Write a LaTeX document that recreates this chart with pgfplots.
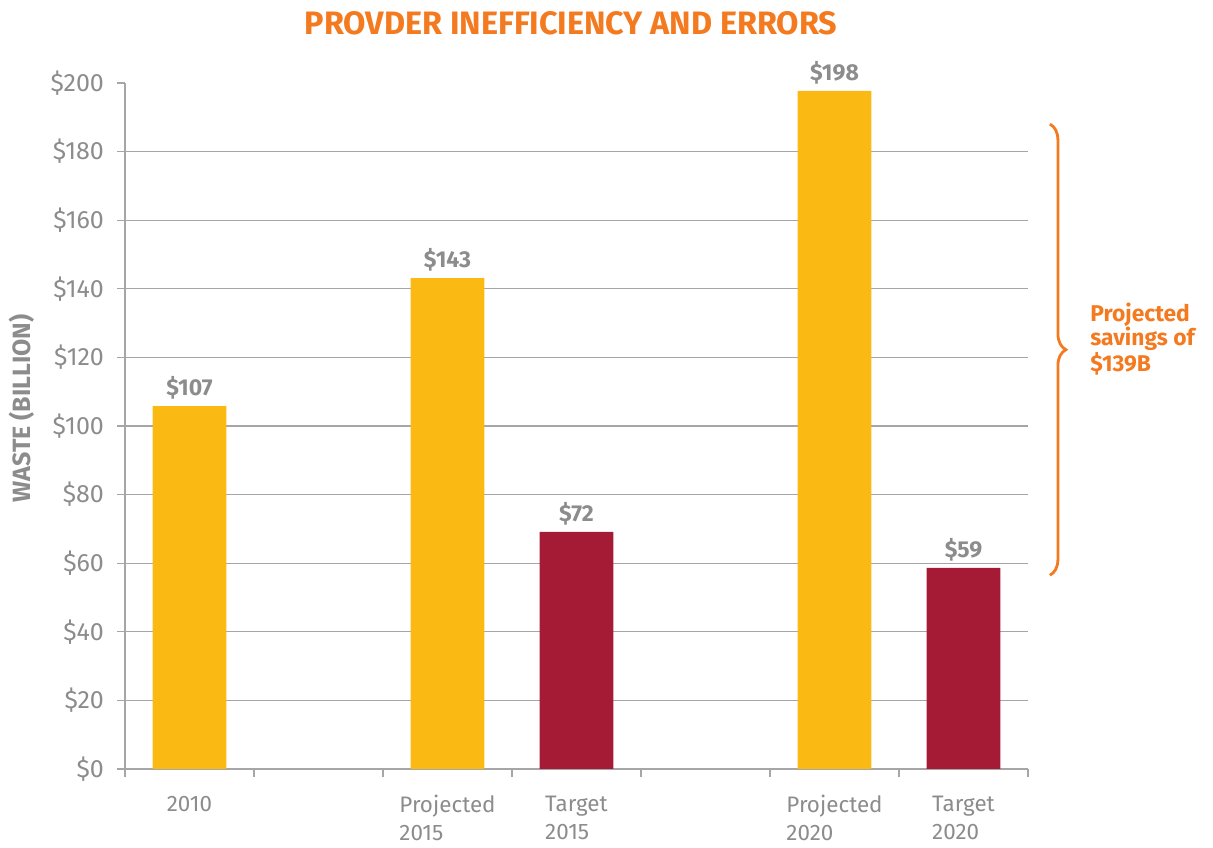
\documentclass[border=0pt]{standalone}
\usepackage{pgfplots}
\pgfplotsset{compat=1.18}
\usepackage{fontspec}
\setmainfont{Fira Sans}
\usetikzlibrary{decorations.pathreplacing}
\definecolor{barY}{HTML}{FBB914}
\definecolor{barR}{HTML}{A51A34}
\definecolor{orng}{HTML}{F47A20}
\definecolor{txtg}{HTML}{8C8C8C}
\definecolor{gridg}{HTML}{A6A6A6}
\begin{document}
\begin{tikzpicture}
\begin{axis}[
  scale only axis, width=451.5pt, height=343pt,
  xmin=-0.5, xmax=6.5, ymin=0, ymax=200,
  axis x line*=bottom, axis y line*=left,
  axis line style={gridg, line width=0.6pt},
  ytick={0,20,...,200},
  yticklabel={\$\pgfmathprintnumber{\tick}},
  tick align=outside, major tick length=4pt,
  tick style={gridg, line width=0.6pt},
  xtick={-0.5,0.5,...,6.5}, xticklabels={},
  extra x ticks={0,2,3,5,6},
  extra x tick labels={\vphantom{Pd}2010,{\vphantom{Pd}Projected\\2015},{\vphantom{Pd}Target\\2015},{\vphantom{Pd}Projected\\2020},{\vphantom{Pd}Target\\2020}},
  extra x tick style={major tick length=0pt},
  xticklabel style={align=left, yshift=-9.5pt, font=\fontsize{11.2}{14}\selectfont},
  yticklabel style={xshift=-3pt, font=\fontsize{12.5}{14}\selectfont},
  extra y ticks={20,40,...,180}, extra y tick labels={},
  extra y tick style={ymajorgrids=true, major tick length=0pt},
  grid style={gridg, line width=0.6pt},
  ticklabel style={text=txtg},
  /pgf/number format/assume math mode=true,
  clip=false,
  ybar, bar width=0.57, bar shift=0pt,
  nodes near coords, point meta=explicit symbolic,
  nodes near coords style={font=\bfseries\fontsize{11.5}{14}\selectfont, text=txtg, anchor=south, yshift=0pt},
]
\addplot[fill=barY, draw=none] coordinates {(0,105.8) [\$107] (2,143.1) [\$143] (5,197.7) [\$198]};
\addplot[fill=barR, draw=none] coordinates {(3,69.1) [\$72] (6,58.6) [\$59]};
\node[anchor=base, text=orng, font=\bfseries\fontsize{16.2}{18}\selectfont] at (rel axis cs:0.494,1) [yshift=24pt] {PROVDER INEFFICIENCY AND ERRORS};
\node[xshift=-51.5pt, rotate=90, text=txtg, font=\bfseries\fontsize{12.5}{14}\selectfont] at (rel axis cs:0,0.5255) {WASTE (BILLION)};
\draw[orng, line width=1.4pt, decorate, decoration={brace, amplitude=8pt}] (axis cs:6.67,188) -- (axis cs:6.67,56.5);
\node[anchor=west, align=left, inner sep=0pt, text=orng, font=\bfseries\fontsize{11.4}{11.8}\selectfont] at (axis cs:6.98,125.4) {Projected\\savings of\\\$139B};
\path (rel axis cs:0,0) ++(-62.5pt,-37.5pt);
\path (rel axis cs:1,1) ++(92.5pt,41.5pt);
\end{axis}
\end{tikzpicture}
\end{document}
